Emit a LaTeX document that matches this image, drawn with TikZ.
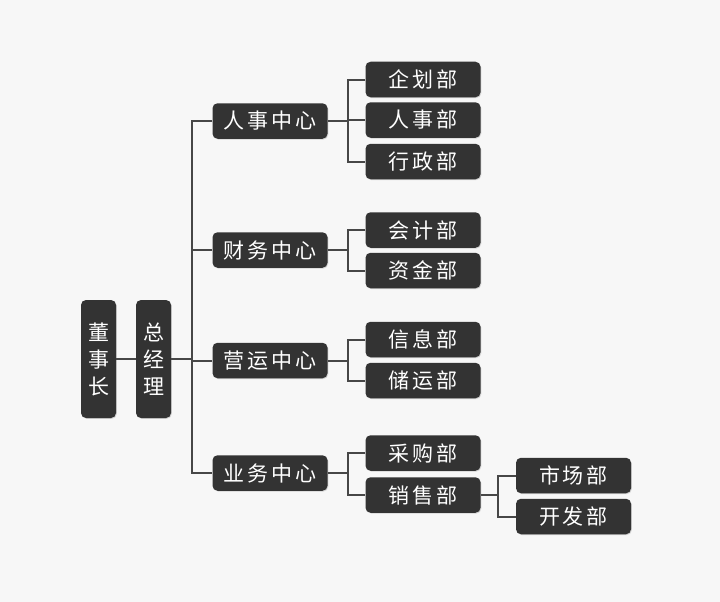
\documentclass[tikz,border=0pt]{standalone}
\usepackage{fontspec}
\newfontfamily\cjk[LetterSpace=14]{Noto Sans CJK SC}
\usetikzlibrary{shadows}
\definecolor{bg}{HTML}{F7F7F7}
\definecolor{boxc}{HTML}{333333}
\definecolor{linec}{HTML}{474747}
\begin{document}
\begin{tikzpicture}[x=1pt,y=-1pt,
  box/.style={fill=boxc, rounded corners=5pt, text=white,
    font=\cjk\fontsize{21}{24}\selectfont, minimum width=115pt,
    minimum height=35.5pt, inner sep=0pt,
    drop shadow={opacity=0.3, shadow xshift=0.8pt, shadow yshift=-0.8pt}},
  vbox/.style={box, minimum width=35pt, minimum height=118pt, align=center,
    font=\cjk\fontsize{21}{27}\selectfont},
  conn/.style={draw=linec, line width=2pt}]
\fill[bg] (0,0) rectangle (720,602);
\useasboundingbox (0,0) rectangle (720,602);

\node[vbox] (dsz) at (98.5,359) {董\\事\\长};
\node[vbox] (zjl) at (153.5,359) {总\\经\\理};

\node[box] (c1) at (270,121) {人事中心};
\node[box] (c2) at (270,250) {财务中心};
\node[box] (c3) at (270,360.5) {营运中心};
\node[box] (c4) at (270,473) {业务中心};

\node[box] (d11) at (423,79.5) {企划部};
\node[box] (d12) at (423,120) {人事部};
\node[box] (d13) at (423,161.5) {行政部};
\node[box] (d21) at (423,230) {会计部};
\node[box] (d22) at (423,270.5) {资金部};
\node[box] (d31) at (423,339.5) {信息部};
\node[box] (d32) at (423,380.5) {储运部};
\node[box] (d41) at (423,453) {采购部};
\node[box] (d42) at (423,495) {销售部};
\node[box] (e1) at (573.5,475.5) {市场部};
\node[box] (e2) at (573.5,516.5) {开发部};

\draw[conn] (dsz.east) -- (zjl.west);
\draw[conn] (zjl.east) -- ++(21,0) coordinate (tr);
\draw[conn] (c1.west) -| (tr) |- (c4.west);
\draw[conn] (tr |- c2.west) -- (c2.west);
\draw[conn] (tr |- c3.west) -- (c3.west);

\draw[conn] (c1.east) -- ++(20,0) coordinate (b1);
\draw[conn] (d11.west) -| (b1) |- (d13.west);
\draw[conn] (b1 |- d12.west) -- (d12.west);

\draw[conn] (c2.east) -- ++(20,0) coordinate (b2);
\draw[conn] (d21.west) -| (b2) |- (d22.west);

\draw[conn] (c3.east) -- ++(20,0) coordinate (b3);
\draw[conn] (d31.west) -| (b3) |- (d32.west);

\draw[conn] (c4.east) -- ++(20,0) coordinate (b4);
\draw[conn] (d41.west) -| (b4) |- (d42.west);

\draw[conn] (d42.east) -- ++(17,0) coordinate (b5);
\draw[conn] (e1.west) -| (b5) |- (e2.west);
\end{tikzpicture}
\end{document}
